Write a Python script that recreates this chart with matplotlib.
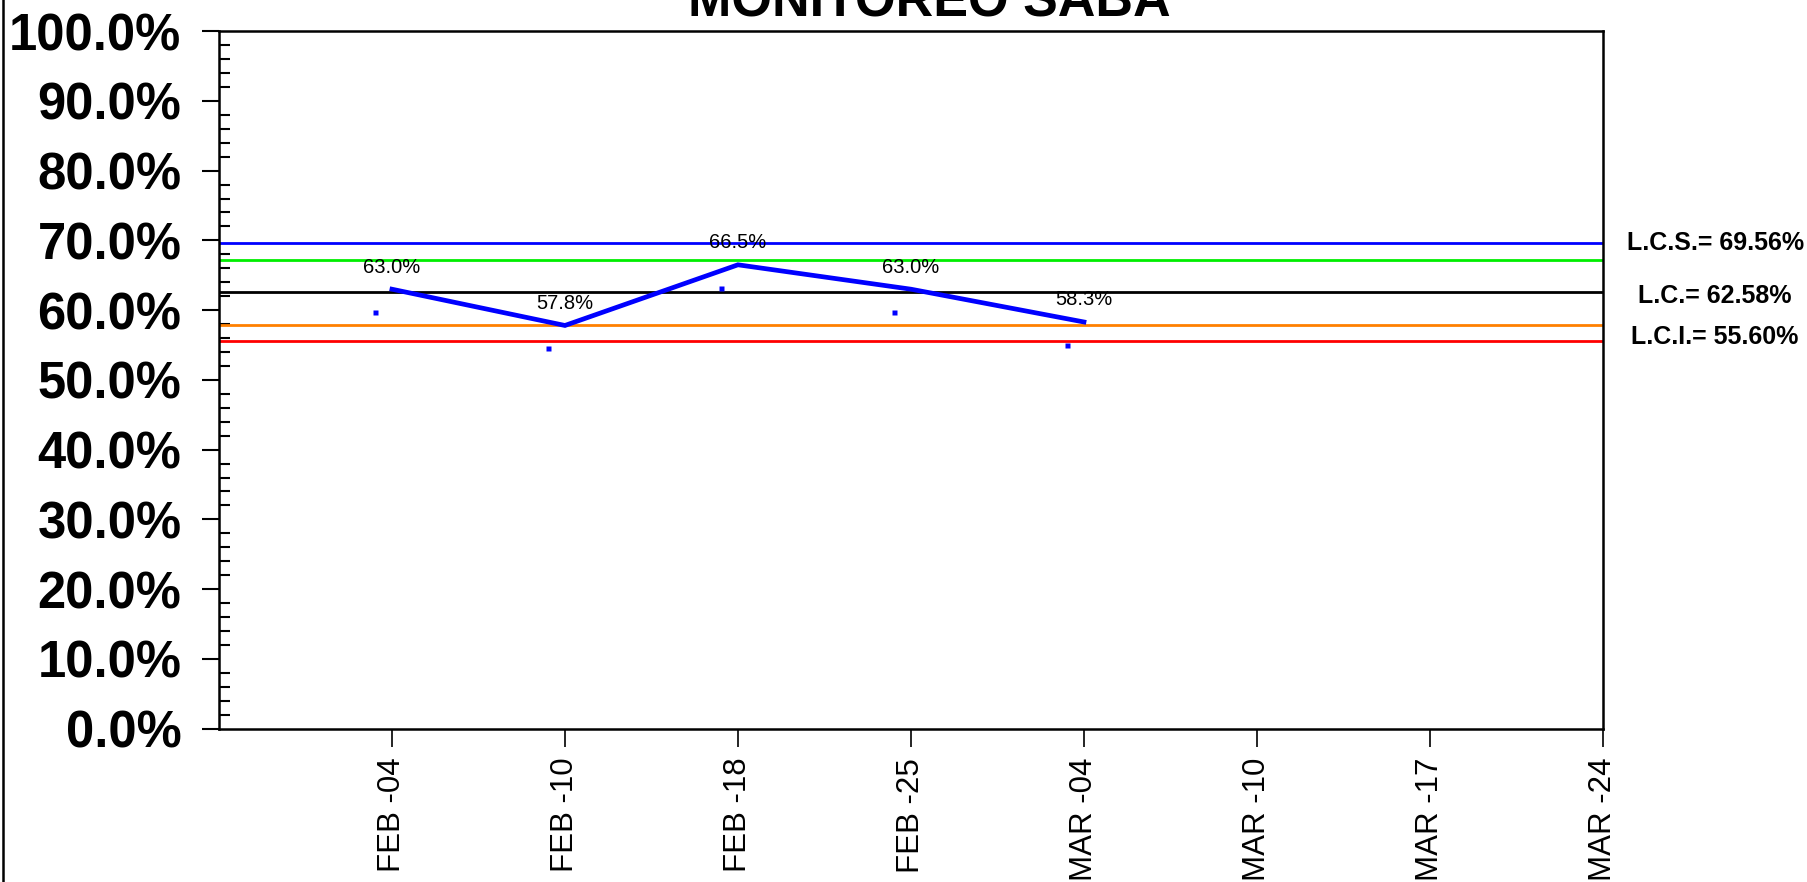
import matplotlib.pyplot as plt
import matplotlib.transforms as mtransforms
from matplotlib.lines import Line2D
from matplotlib.ticker import MultipleLocator, FuncFormatter

plt.rcParams['font.family'] = ['Liberation Sans', 'DejaVu Sans']

# data
fechas = ['FEB -04', 'FEB -10', 'FEB -18', 'FEB -25', 'MAR -04', 'MAR -10', 'MAR -17', 'MAR -24']
valores = [63.0, 57.8, 66.5, 63.0, 58.3]
lcs = 69.56
lc = 62.58
lci = 55.60
zona_sup = 67.23
zona_inf = 57.93

fig = plt.figure(figsize=(18.08, 8.82), dpi=100)
ax = fig.add_axes([0.1211, 0.1739, 0.7655, 0.7908])

x_pos = list(range(1, len(fechas) + 1))
x_val = x_pos[:len(valores)]

# control limits
ax.axhline(lcs, color='#0000ff', lw=2.0, zorder=2)
ax.axhline(zona_sup, color='#00ee00', lw=2.0, zorder=2)
ax.axhline(lc, color='black', lw=2.0, zorder=2)
ax.axhline(zona_inf, color='#ff8000', lw=2.0, zorder=2)
ax.axhline(lci, color='#ff0000', lw=2.0, zorder=2)

ax.plot(x_val, valores, color='#0000ff', lw=3.4, zorder=3, solid_joinstyle='miter')

# small stray markers below each point
off = mtransforms.offset_copy(ax.transData, fig=fig, x=-17, y=-23, units='dots')
ax.plot(x_val, valores, ls='none', marker='s', ms=3.6, color='#0000ff', mec='none', transform=off)

for xv, v in zip(x_val, valores):
    ax.annotate(f'{v:.1f}%', (xv, v), xytext=(0, 22), textcoords='offset pixels',
                ha='center', va='center', fontsize=14.5)

# limit labels on the right
ytr = ax.get_yaxis_transform()
ax.text(1.081, lcs, f'L.C.S.= {lcs:.2f}%', transform=ytr,
        ha='center', va='center', fontsize=18, fontweight='bold')
ax.text(1.081, lc - 0.6, f'L.C.= {lc:.2f}%', transform=ytr,
        ha='center', va='center', fontsize=18, fontweight='bold')
ax.text(1.081, lci + 0.6, f'L.C.I.= {lci:.2f}%', transform=ytr,
        ha='center', va='center', fontsize=18, fontweight='bold')

ax.set_xlim(0, len(fechas))
ax.set_ylim(0, 100)
ax.set_xticks(x_pos)
ax.set_xticklabels(fechas, rotation=90, fontsize=22.5)
ax.yaxis.set_major_locator(MultipleLocator(10))
ax.yaxis.set_minor_locator(MultipleLocator(2))
ax.yaxis.set_major_formatter(FuncFormatter(lambda v, p: f'{v:.1f}%'))
for lab in ax.get_yticklabels():
    lab.set_fontweight('bold')
ax.tick_params(axis='y', which='major', direction='out', length=12, width=1.5, labelsize=36.5, pad=15)
ax.tick_params(axis='y', which='minor', direction='in', length=8, width=1.5)
ax.tick_params(axis='x', direction='out', length=13, width=1.2, pad=8)
for s in ax.spines.values():
    s.set_linewidth(1.8)

fig.text(0.514, 0.981, 'MONITOREO SABA', ha='center', va='baseline', fontsize=37.5, fontweight='bold')

# frame line at the left edge
fig.add_artist(Line2D([0.0015, 0.0015], [0, 1], color='black', lw=1.8, transform=fig.transFigure))

fig.savefig('out.png', dpi=100)
